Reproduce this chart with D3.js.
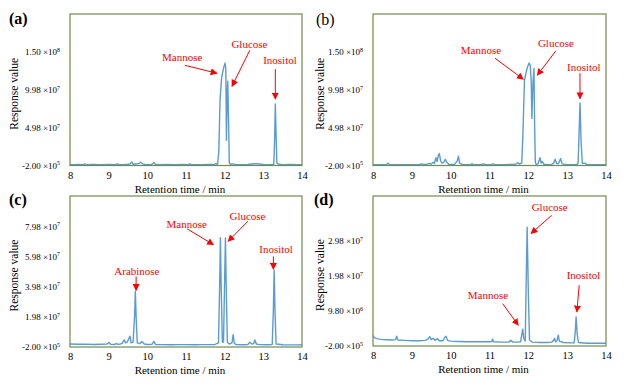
<!DOCTYPE html>
<html>
<head>
<meta charset="utf-8">
<script src="https://cdn.jsdelivr.net/npm/d3@7"></script>
</head>
<body style="margin:0;background:#fff">
<svg width="630" height="385"></svg>
<script>
// values are in units of 10^6 (response), time in min
var timeA = [8.0, 8.1, 8.2, 8.35, 8.38, 8.42, 8.6, 8.8, 9.0, 9.2, 9.22, 9.26, 9.4, 9.5, 9.55, 9.6, 9.63, 9.7, 9.75, 9.8, 9.83, 9.87, 9.95, 10.1, 10.15, 10.17, 10.2, 10.3, 10.5, 10.7, 10.9, 11.05, 11.1, 11.15, 11.4, 11.6, 11.75, 11.78, 11.8, 11.82, 11.85, 11.88, 11.92, 11.95, 11.98, 12.01, 12.03, 12.045, 12.065, 12.08, 12.1, 12.12, 12.15, 12.2, 12.25, 12.3, 12.4, 12.6, 12.7, 12.8, 12.9, 13.0, 13.1, 13.2, 13.27, 13.29, 13.31, 13.33, 13.35, 13.4, 13.5, 13.7, 13.9, 14.0];
var valueA = [1.2, 1.0, 1.1, 0.9, 2.0, 1.0, 1.1, 1.0, 1.1, 1.0, 2.0, 1.0, 1.2, 1.5, 1.8, 4.5, 1.5, 1.8, 2.0, 3.0, 4.0, 2.0, 1.2, 1.0, 2.5, 4.0, 1.5, 1.0, 1.1, 0.9, 1.1, 1.0, 1.8, 1.0, 1.0, 1.2, 1.5, 2.5, 1.5, 2.0, 20, 86, 115, 123, 130, 135, 128, 33, 95, 111, 60, 3, 1.5, 2.0, 1.4, 1.2, 1.0, 1.2, 1.8, 2.2, 1.8, 1.2, 1.0, 1.1, 1.5, 30, 81, 40, 3, 1.4, 1.0, 1.1, 0.9, 1.0];

var timeB = [8.0, 8.2, 8.35, 8.38, 8.42, 8.6, 8.8, 9.0, 9.2, 9.25, 9.3, 9.4, 9.45, 9.5, 9.55, 9.58, 9.62, 9.65, 9.68, 9.71, 9.74, 9.78, 9.82, 9.86, 9.9, 9.95, 10.1, 10.17, 10.2, 10.23, 10.3, 10.5, 10.55, 10.6, 10.8, 10.85, 10.9, 11.05, 11.1, 11.15, 11.4, 11.6, 11.7, 11.73, 11.77, 11.83, 11.86, 11.9, 11.94, 11.98, 12.02, 12.05, 12.075, 12.09, 12.12, 12.145, 12.16, 12.18, 12.2, 12.25, 12.3, 12.33, 12.36, 12.4, 12.5, 12.6, 12.65, 12.69, 12.73, 12.78, 12.83, 12.87, 13.0, 13.2, 13.28, 13.3, 13.33, 13.36, 13.39, 13.45, 13.5, 13.7, 13.9, 14.0];
var valueB = [1.0, 0.9, 1.0, 3.0, 1.0, 0.9, 1.0, 1.0, 1.1, 2.0, 1.2, 1.5, 2.5, 1.8, 4.0, 2.5, 10, 5, 13, 15.5, 6, 3, 4, 8, 4, 1.5, 1.2, 6, 12, 3, 1.2, 1.0, 1.8, 1.0, 1.1, 2.0, 1.0, 1.2, 2.0, 1.0, 1.0, 1.2, 2.0, 3.5, 1.8, 3, 40, 112, 122, 130, 135, 132, 110, 62, 110, 128, 60, 4, 1.5, 2.0, 10, 3, 5, 1.5, 1.0, 1.2, 2.5, 8, 2.5, 2.5, 9, 2, 1.0, 1.0, 2, 30, 82.5, 30, 2.5, 3.0, 1.2, 0.9, 0.8, 0.9];

var timeC = [8.0, 8.2, 8.4, 8.6, 8.8, 8.95, 9.01, 9.05, 9.15, 9.2, 9.24, 9.3, 9.35, 9.4, 9.44, 9.48, 9.55, 9.58, 9.63, 9.67, 9.69, 9.71, 9.74, 9.8, 9.86, 9.92, 10.0, 10.12, 10.17, 10.21, 10.4, 10.6, 10.8, 11.0, 11.2, 11.4, 11.6, 11.75, 11.84, 11.87, 11.89, 11.91, 11.94, 11.97, 12.0, 12.02, 12.04, 12.07, 12.12, 12.19, 12.22, 12.25, 12.3, 12.5, 12.6, 12.65, 12.7, 12.75, 12.78, 12.82, 12.9, 13.1, 13.23, 13.26, 13.28, 13.3, 13.33, 13.5, 13.7, 13.9, 14.0];
var valueC = [1.8, 1.6, 1.7, 1.5, 1.6, 1.7, 2.8, 1.6, 1.5, 2.1, 1.6, 1.8, 2.2, 4.5, 2.5, 3.0, 7.0, 2.5, 3.0, 20, 36.7, 20, 2.5, 2.0, 3.5, 1.8, 1.5, 1.6, 3.5, 1.5, 1.4, 1.3, 1.4, 1.4, 1.3, 1.4, 1.4, 1.5, 2.5, 40, 72.2, 40, 3, 3, 45, 72, 40, 3, 1.8, 2.5, 8, 2.2, 1.4, 1.3, 1.5, 3.0, 1.8, 2.0, 4.5, 1.8, 1.4, 1.3, 1.5, 25, 50.7, 25, 1.8, 1.3, 1.2, 1.2, 1.3];

var timeD = [8.0, 8.03, 8.1, 8.2, 8.35, 8.5, 8.58, 8.61, 8.64, 8.8, 9.0, 9.2, 9.35, 9.42, 9.46, 9.5, 9.55, 9.6, 9.66, 9.7, 9.8, 9.85, 9.88, 9.92, 10.0, 10.2, 10.4, 10.6, 10.8, 11.0, 11.06, 11.08, 11.1, 11.3, 11.5, 11.55, 11.6, 11.7, 11.8, 11.83, 11.855, 11.88, 11.92, 11.94, 11.97, 12.0, 12.03, 12.1, 12.3, 12.5, 12.6, 12.65, 12.675, 12.7, 12.74, 12.77, 12.8, 12.9, 13.1, 13.18, 13.21, 13.23, 13.26, 13.29, 13.5, 13.7, 14.0];
var valueD = [2.8, 2.2, 1.9, 1.7, 1.6, 1.5, 1.6, 2.6, 1.5, 1.4, 1.3, 1.3, 1.4, 1.8, 2.5, 1.6, 2.0, 1.4, 1.9, 1.3, 1.3, 2.3, 2.6, 1.4, 1.2, 1.1, 1.0, 1.0, 1.0, 1.0, 1.1, 1.8, 1.0, 0.9, 0.9, 1.4, 0.9, 0.9, 1.0, 3.0, 4.6, 2.0, 1.2, 15, 33.6, 15, 1.5, 0.9, 0.8, 0.8, 0.9, 1.4, 2.0, 1.0, 1.3, 2.9, 1.2, 0.8, 0.7, 0.7, 4, 8.1, 3, 0.8, 0.6, 0.6, 0.6];

var xTicks = [8, 9, 10, 11, 12, 13, 14];
var yTicksAB = [-0.2, 49.8, 99.8, 149.8];
var yLabelsAB = [["-2.00", "5"], ["4.98", "7"], ["9.98", "7"], ["1.50", "8"]];
var yTicksC = [-0.2, 19.8, 39.8, 59.8, 79.8];
var yLabelsC = [["-2.00", "5"], ["1.98", "7"], ["3.98", "7"], ["5.98", "7"], ["7.98", "7"]];
var yTicksD = [-0.2, 9.8, 19.8, 29.8];
var yLabelsD = [["-2.00", "5"], ["9.80", "6"], ["1.98", "7"], ["2.98", "7"]];

// annotations: label, text centre, arrow start, arrow tip (time, value)
var notesA = [
  { name: "Mannose", text: [10.9, 142.8], from: [10.97, 132], to: [11.8, 121.6] },
  { name: "Glucose", text: [12.64, 160], from: [12.65, 152], to: [12.19, 104.4] },
  { name: "Inositol", text: [13.43, 139], from: [13.31, 127], to: [13.31, 87.5] }
];
var notesB = [
  { name: "Mannose", text: [10.78, 152], from: [11.14, 141.5], to: [11.87, 113.7] },
  { name: "Glucose", text: [12.71, 161.4], from: [12.71, 151.2], to: [12.23, 119] },
  { name: "Inositol", text: [13.43, 130], from: [13.33, 121.7], to: [13.33, 88] }
];
var notesC = [
  { name: "Arabinose", text: [9.73, 49.8], from: [9.71, 46.5], to: [9.71, 37.3] },
  { name: "Mannose", text: [11.02, 81.3], from: [11.03, 78], to: [11.71, 67.6] },
  { name: "Glucose", text: [12.59, 86.5], from: [12.6, 83.1], to: [12.09, 69.8] },
  { name: "Inositol", text: [13.33, 64.3], from: [13.26, 59.8], to: [13.26, 51.3] }
];
var notesD = [
  { name: "Glucose", text: [12.55, 39.4], from: [12.6, 37], to: [12.07, 31.8] },
  { name: "Mannose", text: [10.96, 14.2], from: [11.34, 11.85], to: [11.74, 5.7] },
  { name: "Inositol", text: [13.42, 19.9], from: [13.31, 17.1], to: [13.25, 9.5] }
];

var panels = [
  { tag: "(a)", bold: true, tx: 9, ty: 24, left: 70, right: 302, top: 14, bottom: 165.5, yMax: 199.8,
    times: timeA, values: valueA, ticks: yTicksAB, labels: yLabelsAB, notes: notesA, titleX: 14 },
  { tag: "(b)", bold: false, tx: 316, ty: 25, left: 373, right: 606, top: 14, bottom: 165.5, yMax: 199.8,
    times: timeB, values: valueB, ticks: yTicksAB, labels: yLabelsAB, notes: notesB, titleX: 320 },
  { tag: "(c)", bold: true, tx: 9, ty: 205, left: 70, right: 302, top: 196, bottom: 347, yMax: 99.8,
    times: timeC, values: valueC, ticks: yTicksC, labels: yLabelsC, notes: notesC, titleX: 14 },
  { tag: "(d)", bold: true, tx: 314, ty: 205, left: 373, right: 606, top: 196, bottom: 346, yMax: 42.5,
    times: timeD, values: valueD, ticks: yTicksD, labels: yLabelsD, notes: notesD, titleX: 320 }
];

var svg = d3.select("svg");
var red = "#ff0000";

svg.append("defs")
  .append("marker")
  .attr("id", "head")
  .attr("viewBox", "0 0 10 10")
  .attr("refX", 9)
  .attr("refY", 5)
  .attr("markerUnits", "userSpaceOnUse")
  .attr("markerWidth", 7)
  .attr("markerHeight", 7)
  .attr("orient", "auto")
  .append("path")
  .attr("d", "M0,0 L10,5 L0,10 Z")
  .attr("fill", red);

panels.forEach(function(p) {
  var x = d3.scaleLinear().domain([8, 14]).range([p.left, p.right]);
  var y = d3.scaleLinear().domain([-0.2, p.yMax]).range([p.bottom, p.top]);
  var g = svg.append("g");

  // x axis labels
  var xa = g.append("g")
    .attr("transform", "translate(0," + p.bottom + ")")
    .call(d3.axisBottom(x).tickValues(xTicks).tickSize(0).tickPadding(6).tickFormat(d3.format("d")));
  xa.select(".domain").remove();
  xa.selectAll("text").attr("font-size", 10.5).attr("fill", "#000");

  // y axis labels with superscript exponent
  var ya = g.append("g")
    .attr("transform", "translate(" + p.left + ",0)")
    .call(d3.axisLeft(y).tickValues(p.ticks).tickSize(0).tickPadding(10).tickFormat(""));
  ya.select(".domain").remove();
  ya.selectAll("text")
    .attr("font-size", 9)
    .attr("fill", "#000")
    .each(function(d, i) {
      var t = d3.select(this);
      t.append("tspan").text(p.labels[i][0] + " \u00d710");
      t.append("tspan").attr("dy", -3.5).attr("font-size", 6).text(p.labels[i][1]);
    });

  // trace
  var line = d3.line()
    .x(function(d, i) { return x(p.times[i]); })
    .y(function(d) { return y(d); });
  g.append("path")
    .datum(p.values)
    .attr("d", line)
    .attr("fill", "none")
    .attr("stroke", "#5b9bd5")
    .attr("stroke-width", 1.4)
    .attr("stroke-linejoin", "round");

  // frame
  g.append("rect")
    .attr("x", p.left)
    .attr("y", p.top)
    .attr("width", p.right - p.left)
    .attr("height", p.bottom - p.top)
    .attr("fill", "none")
    .attr("stroke", "#6f8c4b")
    .attr("stroke-width", 1.2);

  // titles
  g.append("text")
    .attr("x", (p.left + p.right) / 2 - 6)
    .attr("y", p.bottom + 27)
    .attr("text-anchor", "middle")
    .attr("font-size", 11)
    .text("Retention time / min");
  g.append("text")
    .attr("transform", "translate(" + p.titleX + "," + ((p.top + p.bottom) / 2 + 4) + ") rotate(-90)")
    .attr("text-anchor", "middle")
    .attr("dy", "0.35em")
    .attr("font-size", 11.5)
    .text("Response value");
  g.append("text")
    .attr("x", p.tx)
    .attr("y", p.ty)
    .attr("font-size", 16)
    .attr("font-weight", p.bold ? "bold" : "normal")
    .text(p.tag);

  // annotations
  var notes = g.selectAll(".note").data(p.notes).enter().append("g").attr("class", "note");
  notes.append("line")
    .attr("x1", function(d) { return x(d.from[0]); })
    .attr("y1", function(d) { return y(d.from[1]); })
    .attr("x2", function(d) { return x(d.to[0]); })
    .attr("y2", function(d) { return y(d.to[1]); })
    .attr("stroke", red)
    .attr("stroke-width", 1)
    .attr("marker-end", "url(#head)");
  notes.append("text")
    .attr("x", function(d) { return x(d.text[0]); })
    .attr("y", function(d) { return y(d.text[1]); })
    .attr("dy", "0.35em")
    .attr("text-anchor", "middle")
    .attr("font-size", 11)
    .attr("fill", red)
    .text(function(d) { return d.name; });
});

// every text in Times-like serif
svg.selectAll("text").style("font-family", "'Liberation Serif', serif");
</script>
</body>
</html>
